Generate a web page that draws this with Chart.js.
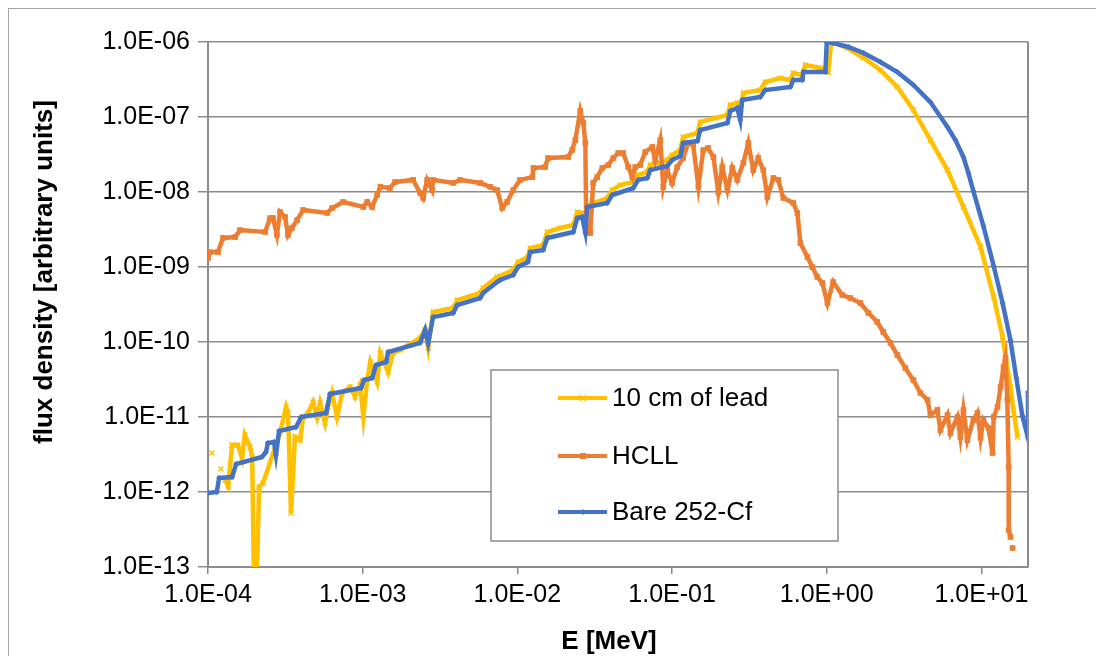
<!DOCTYPE html>
<html lang="en">
<head>
    <meta charset="UTF-8">
    <title>Neutron flux spectra</title>
    <style>
        html, body { margin: 0; padding: 0; background: #fff; }
        #wrap { width: 1096px; height: 656px; }
    </style>
</head>
<body>
    <div id="wrap"><canvas id="chart" width="1096" height="656"></canvas></div>

    <script src="https://cdn.jsdelivr.net/npm/chart.js"></script>
    <script>
        // axis ticks
        const xTicks = [1e-4, 1e-3, 1e-2, 1e-1, 1e0, 1e1];
        const xTickLabels = ['1.0E-04', '1.0E-03', '1.0E-02', '1.0E-01', '1.0E+00', '1.0E+01'];
        const yTicks = [1e-13, 1e-12, 1e-11, 1e-10, 1e-9, 1e-8, 1e-7, 1e-6];
        const yTickLabels = ['1.0E-13', '1.0E-12', '1.0E-11', '1.0E-10', '1.0E-09', '1.0E-08', '1.0E-07', '1.0E-06'];

        const seriesNames = ['10 cm of lead', 'HCLL', 'Bare 252-Cf'];

        // 10 cm of lead
        const leadE = [1.06e-4, 1.1e-4, 1.21e-4, 1.25e-4, 1.29e-4, 1.35e-4, 1.43e-4, 1.56e-4, 1.66e-4, 1.73e-4,
            1.87e-4, 1.93e-4, 1.98e-4, 2.07e-4, 2.14e-4, 2.27e-4, 2.92e-4, 3.2e-4, 3.29e-4, 3.44e-4,
            3.65e-4, 3.94e-4, 4.12e-4, 4.43e-4, 4.78e-4, 5.07e-4, 5.3e-4, 5.71e-4, 5.97e-4, 6.34e-4,
            6.83e-4, 7.36e-4, 8.29e-4, 8.93e-4, 9.62e-4, 1.01e-3, 1.07e-3, 1.12e-3, 1.24e-3, 1.30e-3,
            1.46e-3, 1.57e-3, 1.75e-3, 2.35e-3, 2.53e-3, 2.65e-3, 2.85e-3, 3.85e-3, 4.08e-3, 5.75e-3,
            6.01e-3, 7.4e-3, 7.74e-3, 9.4e-3, 1.01e-2, 1.17e-2, 1.21e-2, 1.47e-2, 1.56e-2, 1.89e-2,
            2.3e-2, 2.44e-2, 2.62e-2, 2.75e-2, 2.87e-2, 3.81e-2, 4.1e-2, 4.62e-2, 5.61e-2, 6.04e-2,
            6.92e-2, 7.23e-2, 8.39e-2, 9.31e-2, 0.1, 0.113, 0.118, 0.146, 0.152, 0.19,
            0.228, 0.238, 0.264, 0.276, 0.289, 0.372, 0.401, 0.501, 0.582, 0.608,
            0.695, 0.728, 0.91, 1.02, 1.07, 1.36, 1.73, 2.22, 2.86, 3.63,
            4.68, 6.03, 7.65, 9.87, 12.0, 13.7, 15.4, 16.1, 17.1];
        const leadFlux = [3.31e-12, null, 2.03e-12, null, 1.45e-12, 1.2e-12, 4.23e-12, 4.23e-12, 2.84e-12, 5.75e-12,
            3.98e-12, 2.93e-12, 8e-14, 8e-14, 1.17e-12, 1.32e-12, 6.12e-12, 1.36e-11, 1.13e-11, 5.25e-13,
            5.41e-12, 4.93e-12, 1.0e-11, 1.13e-11, 1.58e-11, 1.0e-11, 1.54e-11, 8.32e-12, 1.36e-11, 2.09e-11,
            1.0e-11, 2.09e-11, 2.51e-11, 1.85e-11, 2.67e-11, 1.0e-11, 3.11e-11, 5.41e-11, 2.93e-11, 7.14e-11,
            3.98e-11, 7.14e-11, 7.82e-11, 1.13e-10, 1.45e-10, 8.32e-11, 2.51e-10, 2.84e-10, 3.63e-10, 4.5e-10,
            5.25e-10, 7.36e-10, 7.59e-10, 9.12e-10, 1.17e-9, 1.36e-9, 1.79e-9, 1.96e-9, 2.93e-9, 3.31e-9,
            3.63e-9, 5.41e-9, 5.25e-9, 3.63e-9, 6.71e-9, 8.32e-9, 1.06e-8, 1.24e-8, 1.36e-8, 1.69e-8,
            1.85e-8, 2.29e-8, 2.44e-8, 2.67e-8, 3.11e-8, 3.63e-8, 5.41e-8, 6.12e-8, 8.57e-8, 9.7e-8,
            1.06e-7, 1.45e-7, 1.54e-7, 1.17e-7, 2.09e-7, 2.29e-7, 2.93e-7, 3.31e-7, 3.11e-7, 3.86e-7,
            3.63e-7, 4.93e-7, 4.5e-7, 3.98e-7, 1.0e-6, 8.32e-7, 6.12e-7, 4.23e-7, 2.51e-7, 1.24e-7,
            4.93e-8, 1.96e-8, 6.31e-9, 1.85e-9, 3.98e-10, 1.17e-10, 2.51e-11, 1.24e-11, 5.41e-12];

        // HCLL
        const hcllE = [1.0e-4, 1.03e-4, 1.16e-4, 1.25e-4, 1.50e-4, 1.61e-4, 2.34e-4, 2.52e-4, 2.63e-4, 2.79e-4,
            2.92e-4, 3.15e-4, 3.29e-4, 3.49e-4, 3.77e-4, 4.12e-4, 5.89e-4, 6.34e-4, 7.47e-4, 1.01e-3,
            1.07e-3, 1.15e-3, 1.24e-3, 1.30e-3, 1.50e-3, 1.62e-3, 2.12e-3, 2.35e-3, 2.46e-3, 2.61e-3,
            2.81e-3, 2.85e-3, 3.85e-3, 4.27e-3, 5.75e-3, 6.67e-3, 7.4e-3, 7.98e-3, 8.59e-3, 9.4e-3,
            1.04e-2, 1.25e-2, 1.27e-2, 1.51e-2, 1.58e-2, 2.13e-2, 2.26e-2, 2.37e-2, 2.55e-2, 2.67e-2,
            2.75e-2, 2.79e-2, 2.96e-2, 3.09e-2, 3.28e-2, 3.54e-2, 3.87e-2, 4.17e-2, 4.49e-2, 4.83e-2,
            5.21e-2, 5.53e-2, 5.78e-2, 6.22e-2, 6.71e-2, 7.45e-2, 7.78e-2, 8.39e-2, 8.77e-2, 9.31e-2,
            0.1, 0.108, 0.118, 0.127, 0.137, 0.148, 0.159, 0.171, 0.185, 0.199,
            0.211, 0.228, 0.245, 0.264, 0.289, 0.311, 0.335, 0.361, 0.389, 0.413,
            0.452, 0.486, 0.524, 0.608, 0.646, 0.675, 0.750, 0.807, 0.869, 0.937,
            1.01, 1.10, 1.26, 1.42, 1.65, 1.86, 2.12, 2.32, 2.58, 2.86,
            3.22, 3.63, 4.03, 4.48, 4.68, 5.19, 5.43, 6.03, 6.30, 7.0,
            7.31, 7.65, 8.11, 8.87, 9.42, 9.87, 10.3, 11.1, 11.8, 12.0,
            12.7, 13.3, 13.9, 14.3, 14.7, 15.0, 15.0, 15.4, 15.6, 15.9];
        const hcllFlux = [1.32e-9, 1.58e-9, 1.58e-9, 2.44e-9, 2.51e-9, 3.11e-9, 2.93e-9, 4.5e-9, 4.5e-9, 2.67e-9,
            5.41e-9, 4.64e-9, 2.67e-9, 3.31e-9, 4.23e-9, 5.75e-9, 5.25e-9, 6.12e-9, 7.36e-9, 6.31e-9,
            7.36e-9, 6.31e-9, 9.12e-9, 1.17e-8, 1.13e-8, 1.36e-8, 1.45e-8, 9.7e-9, 8.32e-9, 1.45e-8,
            1.06e-8, 1.45e-8, 1.32e-8, 1.45e-8, 1.32e-8, 1.17e-8, 1.06e-8, 6.12e-9, 7.36e-9, 1.06e-8,
            1.45e-8, 1.58e-8, 2.09e-8, 2.15e-8, 2.84e-8, 2.93e-8, 3.63e-8, 4.93e-8, 1.2e-7, 8.32e-8,
            4.5e-8, 2.84e-9, 2.84e-9, 1.32e-8, 1.58e-8, 2.09e-8, 2.29e-8, 2.84e-8, 3.31e-8, 3.31e-8,
            2.15e-8, 1.58e-8, 2.15e-8, 2.29e-8, 3.41e-8, 3.98e-8, 2.67e-8, 4.93e-8, 1.17e-8, 1.96e-8,
            1.32e-8, 2.15e-8, 2.84e-8, 4.5e-8, 4.23e-8, 1.17e-8, 3.63e-8, 3.86e-8, 2.93e-8, 1.0e-8,
            2.15e-8, 1.06e-8, 2.09e-8, 1.45e-8, 2.44e-8, 4.5e-8, 1.96e-8, 2.84e-8, 1.96e-8, 8.57e-9,
            1.54e-8, 1.45e-8, 8.32e-9, 7.14e-9, 5.25e-9, 2.09e-9, 1.36e-9, 1.0e-9, 7.36e-10, 6.12e-10,
            3.31e-10, 6.31e-10, 4.23e-10, 3.86e-10, 3.31e-10, 2.44e-10, 1.85e-10, 1.36e-10, 9.7e-11, 6.71e-11,
            4.5e-11, 3.11e-11, 2.09e-11, 1.69e-11, 1.06e-11, 1.24e-11, 6.71e-12, 1.06e-11, 6.12e-12, 1.0e-11,
            5.41e-12, 1.24e-11, 4.93e-12, 9.12e-12, 1.13e-11, 5.25e-12, 9.12e-12, 7.14e-12, 3.31e-12, 1.0e-11,
            1.36e-11, 2.51e-11, 4.64e-11, 6.12e-11, 1.69e-11, 2.15e-12, 3.11e-13, 2.51e-13, null, 1.79e-13];

        // Bare 252-Cf
        const cfE = [1.0e-4, 1.14e-4, 1.18e-4, 1.43e-4, 1.52e-4, 2.23e-4, 2.37e-4, 2.44e-4, 2.67e-4, 2.75e-4,
            2.88e-4, 3.71e-4, 4.0e-4, 5.8e-4, 6.15e-4, 9.77e-4, 1.02e-3, 1.15e-3, 1.22e-3, 1.42e-3,
            1.46e-3, 2.35e-3, 2.53e-3, 2.65e-3, 2.85e-3, 3.85e-3, 4.08e-3, 5.75e-3, 6.01e-3, 7.4e-3,
            7.74e-3, 9.4e-3, 1.01e-2, 1.17e-2, 1.21e-2, 1.47e-2, 1.56e-2, 2.3e-2, 2.44e-2, 2.62e-2,
            2.75e-2, 2.83e-2, 3.81e-2, 4.1e-2, 5.61e-2, 6.04e-2, 6.92e-2, 7.23e-2, 9.31e-2, 0.100,
            0.113, 0.118, 0.146, 0.152, 0.228, 0.238, 0.264, 0.276, 0.284, 0.372,
            0.401, 0.582, 0.608, 0.695, 0.706, 0.98, 1.0, 1.10, 1.38, 1.73,
            2.22, 2.86, 3.63, 4.68, 6.03, 6.79, 7.65, 8.24, 8.87, 10.3,
            12.0, 13.7, 15.4, 16.8, 18.4, 20, 20];
        const cfFlux = [9.7e-13, 1.0e-12, 1.54e-12, 1.58e-12, 2.36e-12, 2.93e-12, 3.41e-12, 4.5e-12, 4.64e-12, 3.11e-12,
            6.5e-12, 7.36e-12, 1.0e-11, 1.13e-11, 2.03e-11, 2.44e-11, 3.11e-11, 3.31e-11, 4.93e-11, 5.41e-11,
            7.36e-11, 9.7e-11, 1.45e-10, 9.7e-11, 2.15e-10, 2.44e-10, 3.11e-10, 3.86e-10, 4.5e-10, 6.31e-10,
            6.71e-10, 7.82e-10, 1.0e-9, 1.17e-9, 1.58e-9, 1.69e-9, 2.44e-9, 2.93e-9, 4.5e-9, 4.64e-9,
            2.93e-9, 6.31e-9, 7.14e-9, 9.12e-9, 1.13e-8, 1.45e-8, 1.54e-8, 1.96e-8, 2.22e-8, 2.67e-8,
            3.02e-8, 4.5e-8, 4.79e-8, 6.71e-8, 8.32e-8, 1.2e-7, 1.32e-7, 9.12e-8, 1.69e-7, 1.85e-7,
            2.29e-7, 2.51e-7, 3.11e-7, 3.11e-7, 3.98e-7, 3.98e-7, 1.0e-6, 9.7e-7, 8.58e-7, 7.14e-7,
            5.41e-7, 3.98e-7, 2.67e-7, 1.58e-7, 7.36e-8, 4.93e-8, 2.93e-8, 1.79e-8, 1.03e-8, 3.52e-9,
            1.03e-9, 3.31e-10, 1.06e-10, 3.31e-11, 1.03e-11, 5.25e-12, 2.15e-11];

        const colors = ['#FFC000', '#ED7D31', '#4472C4'];
        const font = '"Liberation Sans", Arial, sans-serif';

        function toPoints(xs, ys) {
            return xs.map((x, i) => ({ x: x, y: ys[i] }));
        }

        // markers for the hand-drawn legend
        function drawMarker(ctx, style, x, y, color) {
            ctx.save();
            ctx.fillStyle = color;
            ctx.strokeStyle = color;
            if (style === 'rect') {
                ctx.fillRect(x - 3, y - 3, 6, 6);
            } else if (style === 'crossRot') {
                ctx.lineWidth = 1.5;
                ctx.beginPath();
                ctx.moveTo(x - 3, y - 3); ctx.lineTo(x + 3, y + 3);
                ctx.moveTo(x + 3, y - 3); ctx.lineTo(x - 3, y + 3);
                ctx.stroke();
            } else {
                ctx.beginPath();
                ctx.moveTo(x, y - 3); ctx.lineTo(x + 3, y); ctx.lineTo(x, y + 3); ctx.lineTo(x - 3, y);
                ctx.closePath();
                ctx.fill();
            }
            ctx.restore();
        }

        const pointStyles = ['crossRot', 'rect', 'rectRot'];

        const decor = {
            id: 'decor',
            beforeDraw(chart) {
                const ctx = chart.ctx;
                ctx.save();
                ctx.fillStyle = '#ffffff';
                ctx.fillRect(0, 0, chart.width, chart.height);
                ctx.strokeStyle = '#a6a6a6';
                ctx.lineWidth = 1;
                ctx.strokeRect(8.5, 8.5, 1200, 800);
                ctx.restore();
            },
            afterDraw(chart) {
                const ctx = chart.ctx;
                const area = chart.chartArea;
                ctx.save();

                // right edge of the plot area
                ctx.strokeStyle = '#8c8c8c';
                ctx.lineWidth = 2;
                ctx.beginPath();
                ctx.moveTo(area.right, area.top);
                ctx.lineTo(area.right, area.bottom);
                ctx.stroke();

                // axis titles
                ctx.fillStyle = '#000';
                ctx.font = 'bold 26px ' + font;
                ctx.textAlign = 'center';
                ctx.textBaseline = 'middle';
                ctx.fillText('E [MeV]', 609, 642);
                ctx.save();
                ctx.translate(45, 272);
                ctx.rotate(-Math.PI / 2);
                ctx.fillText('flux density [arbitrary units]', 0, 0);
                ctx.restore();

                // legend box
                ctx.fillStyle = '#fff';
                ctx.fillRect(491, 370, 347, 171);
                ctx.strokeStyle = '#8c8c8c';
                ctx.lineWidth = 1.5;
                ctx.strokeRect(491, 370, 347, 171);

                const rows = [398, 456, 512];
                ctx.font = '26px ' + font;
                ctx.textAlign = 'left';
                ctx.textBaseline = 'middle';
                seriesNames.forEach((name, i) => {
                    ctx.strokeStyle = colors[i];
                    ctx.lineWidth = 4;
                    ctx.beginPath();
                    ctx.moveTo(558, rows[i]);
                    ctx.lineTo(607, rows[i]);
                    ctx.stroke();
                    drawMarker(ctx, pointStyles[i], 583, rows[i], colors[i]);
                    ctx.fillStyle = '#000';
                    ctx.fillText(name, 612, rows[i] + 1);
                });
                ctx.restore();
            }
        };

        const ctx = document.getElementById('chart').getContext('2d');
        new Chart(ctx, {
            type: 'line',
            data: {
                datasets: [
                    {
                        label: seriesNames[0],
                        data: toPoints(leadE, leadFlux),
                        borderColor: colors[0],
                        backgroundColor: colors[0],
                        borderWidth: 4.5,
                        pointStyle: 'crossRot',
                        pointRadius: 3.5,
                        pointBorderWidth: 1.5,
                        order: 3
                    },
                    {
                        label: seriesNames[1],
                        data: toPoints(hcllE, hcllFlux),
                        borderColor: colors[1],
                        backgroundColor: colors[1],
                        borderWidth: 4.5,
                        pointStyle: 'rect',
                        pointRadius: 4,
                        pointBorderWidth: 0,
                        order: 2
                    },
                    {
                        label: seriesNames[2],
                        data: toPoints(cfE, cfFlux),
                        borderColor: colors[2],
                        backgroundColor: colors[2],
                        borderWidth: 4.5,
                        pointStyle: 'rectRot',
                        pointRadius: 3,
                        pointBorderWidth: 0,
                        order: 1
                    }
                ]
            },
            options: {
                responsive: false,
                animation: false,
                devicePixelRatio: 1,
                spanGaps: false,
                layout: { padding: { top: 42, right: 68, left: 0, bottom: 0 } },
                plugins: {
                    legend: { display: false },
                    tooltip: { enabled: false }
                },
                scales: {
                    x: {
                        type: 'logarithmic',
                        min: 1e-4,
                        max: 20,
                        afterBuildTicks: (scale) => { scale.ticks = xTicks.map(v => ({ value: v })); },
                        afterFit: (scale) => { scale.height = 89; },
                        ticks: {
                            autoSkip: false,
                            maxRotation: 0,
                            padding: 6,
                            color: '#000',
                            font: { family: font, size: 25 },
                            callback: (v, i) => xTickLabels[i]
                        },
                        grid: { drawOnChartArea: false, tickLength: 7, color: '#8c8c8c', lineWidth: 1.5 },
                        border: { display: true, color: '#8c8c8c', width: 2 }
                    },
                    y: {
                        type: 'logarithmic',
                        min: 1e-13,
                        max: 1e-6,
                        afterBuildTicks: (scale) => { scale.ticks = yTicks.map(v => ({ value: v })); },
                        afterFit: (scale) => { scale.width = 208; },
                        ticks: {
                            autoSkip: false,
                            padding: 8,
                            color: '#000',
                            font: { family: font, size: 25 },
                            callback: (v, i) => yTickLabels[i]
                        },
                        grid: { tickLength: 10, color: '#8c8c8c', lineWidth: 1.5 },
                        border: { display: true, color: '#8c8c8c', width: 2 }
                    }
                }
            },
            plugins: [decor]
        });
    </script>
</body>
</html>
